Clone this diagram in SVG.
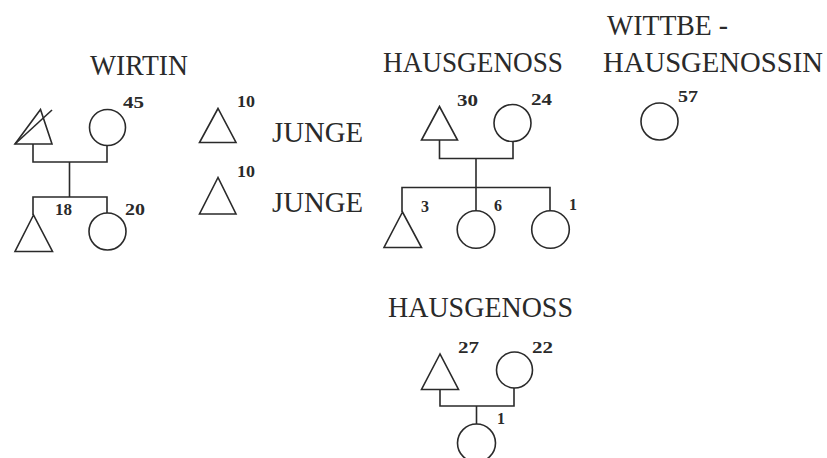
<svg xmlns="http://www.w3.org/2000/svg" width="827" height="458" viewBox="0 0 827 458">
<style>
.s{fill:none;stroke:#2a2a2a;stroke-width:1.6}
.t{font-family:"Liberation Serif","Times New Roman",serif;font-size:29px;fill:#2a2a2a}
.n{font-family:"Liberation Serif","Times New Roman",serif;font-size:16px;font-weight:bold;fill:#2a2a2a}
</style>
<rect width="827" height="458" fill="#ffffff"/>
<g id="titles">
<text class="t" x="90" y="75" textLength="98" lengthAdjust="spacingAndGlyphs">WIRTIN</text>
<text class="t" x="383" y="72" textLength="180" lengthAdjust="spacingAndGlyphs">HAUSGENOSS</text>
<text class="t" x="607" y="35" textLength="121" lengthAdjust="spacingAndGlyphs">WITTBE -</text>
<text class="t" x="603" y="72" textLength="220" lengthAdjust="spacingAndGlyphs">HAUSGENOSSIN</text>
<text class="t" x="272" y="142" textLength="91" lengthAdjust="spacingAndGlyphs">JUNGE</text>
<text class="t" x="272" y="212" textLength="91" lengthAdjust="spacingAndGlyphs">JUNGE</text>
<text class="t" x="388" y="317" textLength="185" lengthAdjust="spacingAndGlyphs">HAUSGENOSS</text>
</g>
<g id="connectors" class="s">
<polyline points="33,144 33,162 107,162 107,146"/>
<line x1="69.5" y1="162" x2="69.5" y2="197"/>
<polyline points="33,215 33,197 107,197 107,213"/>
<polyline points="439.5,140 439.5,158.5 513,158.5 513,141"/>
<line x1="476" y1="158.5" x2="476" y2="187.5"/>
<polyline points="402,212 402,187.5 550,187.5 550,211"/>
<line x1="476" y1="187.5" x2="476" y2="211"/>
<polyline points="440,389 440,406 514,406 514,388"/>
<line x1="476.5" y1="406" x2="476.5" y2="424"/>
</g>
<g id="wirtin-father" class="s">
<polygon points="40.5,109.5 15,144 52,144"/>
<line x1="15" y1="144" x2="52" y2="110"/>
</g>
<g id="wirtin"><circle class="s" cx="107.5" cy="127.5" r="18"/><text class="n" x="123" y="108" textLength="21" lengthAdjust="spacingAndGlyphs">45</text></g>
<g id="wirtin-son"><polygon class="s" points="33.5,215 15,251.5 52.5,251.5"/><text class="n" x="55" y="215" textLength="17" lengthAdjust="spacingAndGlyphs">18</text></g>
<g id="wirtin-daughter"><circle class="s" cx="107.5" cy="231.5" r="18.5"/><text class="n" x="125" y="215" textLength="20" lengthAdjust="spacingAndGlyphs">20</text></g>
<g id="junge-1"><polygon class="s" points="218,108.5 199.5,142.5 236,142.5"/><text class="n" x="237" y="107" textLength="18" lengthAdjust="spacingAndGlyphs">10</text></g>
<g id="junge-2"><polygon class="s" points="218,177.5 199.5,214 236,214"/><text class="n" x="237" y="177" textLength="18" lengthAdjust="spacingAndGlyphs">10</text></g>
<g id="hausgenoss-1"><polygon class="s" points="439.5,106.5 421.5,140 457.5,140"/><text class="n" x="457" y="106" textLength="21" lengthAdjust="spacingAndGlyphs">30</text></g>
<g id="hausgenoss-1-wife"><circle class="s" cx="512.5" cy="123" r="18.5"/><text class="n" x="531" y="105" textLength="21" lengthAdjust="spacingAndGlyphs">24</text></g>
<g id="child-3"><polygon class="s" points="402.5,212 384,247.5 421.5,247.5"/><text class="n" x="421" y="212">3</text></g>
<g id="child-6"><circle class="s" cx="476" cy="229.5" r="18.8"/><text class="n" x="494" y="211">6</text></g>
<g id="child-1"><circle class="s" cx="550.5" cy="229.5" r="18.8"/><text class="n" x="569" y="210">1</text></g>
<g id="wittbe"><circle class="s" cx="659.5" cy="121.5" r="18.5"/><text class="n" x="678" y="102" textLength="20" lengthAdjust="spacingAndGlyphs">57</text></g>
<g id="hausgenoss-2"><polygon class="s" points="440,354 421.5,389.5 458.5,389.5"/><text class="n" x="458" y="353" textLength="21" lengthAdjust="spacingAndGlyphs">27</text></g>
<g id="hausgenoss-2-wife"><circle class="s" cx="514.5" cy="370" r="18"/><text class="n" x="532" y="353" textLength="21" lengthAdjust="spacingAndGlyphs">22</text></g>
<g id="hausgenoss-2-child"><circle class="s" cx="476.5" cy="443" r="19"/><text class="n" x="497" y="424">1</text></g>
</svg>
